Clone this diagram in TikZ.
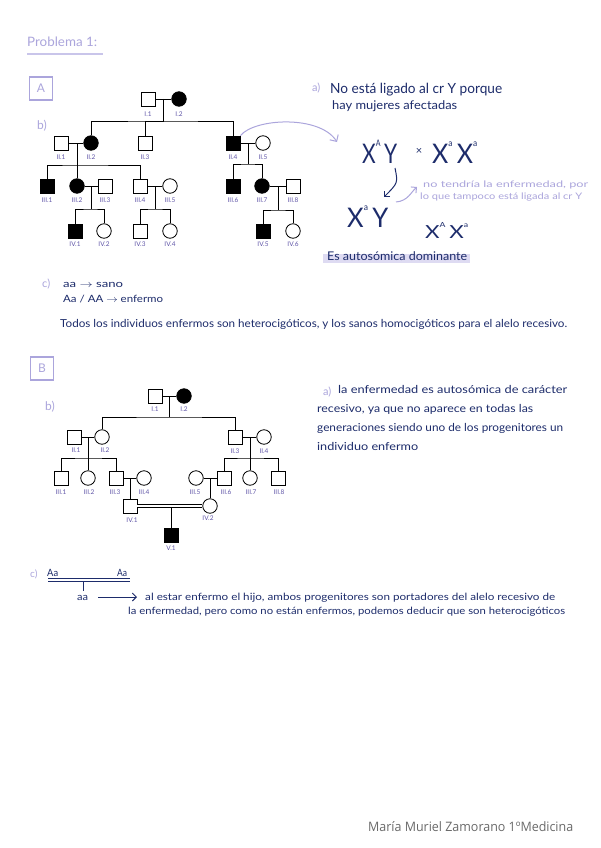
\documentclass[tikz,border=0pt]{standalone}
\usepackage{fontspec}
\usepackage{graphicx}
\setmainfont{Lato}
\newfontfamily\footfont{Open Sans}
\usetikzlibrary{arrows.meta}
\definecolor{navy}{HTML}{1D2C6B}
\definecolor{lav}{HTML}{ABA5DC}
\definecolor{lavl}{HTML}{C9C5EA}
\definecolor{lblc}{HTML}{6056A8}
\definecolor{hl}{HTML}{DEDBF2}
\definecolor{footc}{HTML}{6A6A6A}
\newcommand\fitto[2]{\resizebox{#1}{\height}{#2}}
\newcommand\fs[1]{\fontsize{#1}{#1}\selectfont}
\tikzset{
 ml/.style={draw, rectangle, minimum size=14pt, inner sep=0pt, line width=0.8pt, fill=white},
 fm/.style={draw, circle, minimum size=14.5pt, inner sep=0pt, line width=0.8pt, fill=white},
 aff/.style={fill=black},
 ln/.style={line width=0.8pt},
 lbl/.style={text=lblc, font=\fs{6.5}, inner sep=0pt},
 hw/.style={text=navy, inner sep=0pt, anchor=base west},
 lv/.style={text=lav, inner sep=0pt, anchor=base west},
 tipb/.style={-{Straight Barb[length=4pt]}},
}
\begin{document}
\begin{tikzpicture}[x=1pt,y=-1pt]
\fill[white] (0,0) rectangle (600,848);
\useasboundingbox (0,0) rectangle (600,848);

% title
\node[lv, font=\fs{13}] (title) at (27,47) {\fitto{70pt}{Problema 1:}};
\draw[lavl, line width=1.2pt] (27,54) -- (103,54);

% box A
\node[draw=lav, line width=1.3pt, minimum size=23pt, inner sep=0pt, text=lav, font=\fs{12}] (boxA) at (41,88.5) {A};
\node[lv, font=\fs{12}] (bA) at (37,130) {b)};

% ---------- Pedigree A ----------
\node[ml] (AI1) at (148,99) {};
\node[fm,aff] (AI2) at (179,99) {};
\node[ml] (AII1) at (61,143) {};
\node[fm,aff] (AII2) at (91,143) {};
\node[ml] (AII3) at (145,143) {};
\node[ml,aff] (AII4) at (233,143) {};
\node[fm] (AII5) at (263,143) {};
\node[ml,aff] (AIII1) at (47,186) {};
\node[fm,aff] (AIII2) at (77,186) {};
\node[ml] (AIII3) at (105,186) {};
\node[ml] (AIII4) at (140,186) {};
\node[fm] (AIII5) at (170,186) {};
\node[ml,aff] (AIII6) at (233,186) {};
\node[fm,aff] (AIII7) at (262,186) {};
\node[ml] (AIII8) at (293,186) {};
\node[ml,aff] (AIV1) at (75,231) {};
\node[fm] (AIV2) at (104,231) {};
\node[ml] (AIV3) at (140,231) {};
\node[fm] (AIV4) at (170,231) {};
\node[ml,aff] (AIV5) at (263,231) {};
\node[fm] (AIV6) at (293,231) {};

\coordinate (Am1) at (163.5,99); \coordinate (As1) at (163.5,121);
\coordinate (Am2) at (77,143); \coordinate (As2) at (77,165);
\coordinate (Am3) at (91,186); \coordinate (As3) at (91,209);
\coordinate (Am4) at (155,186); \coordinate (As4) at (155,209);
\coordinate (Am5) at (248,143); \coordinate (As5) at (248,164);
\coordinate (Am6) at (278,186); \coordinate (As6) at (278,210);

\draw[ln] (AI1.east) -- (AI2.west);
\draw[ln] (Am1) -- (As1);
\draw[ln] (AII2.north) |- (As1) -| (AII4.north);
\draw[ln] (AII3.north) |- (As1);
\draw[ln] (AII1.east) -- (AII2.west);
\draw[ln] (Am2) -- (AIII2.north);
\draw[ln] (AIII1.north) |- (As2) -| (AIII4.north);
\draw[ln] (AIII2.east) -- (AIII3.west);
\draw[ln] (Am3) -- (As3);
\draw[ln] (AIV1.north) |- (As3) -| (AIV2.north);
\draw[ln] (AIII4.east) -- (AIII5.west);
\draw[ln] (Am4) -- (As4);
\draw[ln] (AIV3.north) |- (As4) -| (AIV4.north);
\draw[ln] (AII4.east) -- (AII5.west);
\draw[ln] (Am5) -- (As5);
\draw[ln] (AIII6.north) |- (As5) -| (AIII7.north);
\draw[ln] (AIII7.east) -- (AIII8.west);
\draw[ln] (Am6) -- (As6);
\draw[ln] (AIV5.north) |- (As6) -| (AIV6.north);

\node[lbl] (lAI1) at (148,114) {I.1};
\node[lbl] (lAI2) at (179,114) {I.2};
\node[lbl] (lAII1) at (61,157) {II.1};
\node[lbl] (lAII2) at (91,157) {II.2};
\node[lbl] (lAII3) at (145,157) {II.3};
\node[lbl] (lAII4) at (233,157) {II.4};
\node[lbl] (lAII5) at (263,157) {II.5};
\node[lbl] (lAIII1) at (47,200) {III.1};
\node[lbl] (lAIII2) at (77,200) {III.2};
\node[lbl] (lAIII3) at (105,200) {III.3};
\node[lbl] (lAIII4) at (140,200) {III.4};
\node[lbl] (lAIII5) at (170,200) {III.5};
\node[lbl] (lAIII6) at (233,200) {III.6};
\node[lbl] (lAIII7) at (262,200) {III.7};
\node[lbl] (lAIII8) at (293,200) {III.8};
\node[lbl] (lAIV1) at (75,244) {IV.1};
\node[lbl] (lAIV2) at (104,244) {IV.2};
\node[lbl] (lAIV3) at (140,244) {IV.3};
\node[lbl] (lAIV4) at (170,244) {IV.4};
\node[lbl] (lAIV5) at (263,244) {IV.5};
\node[lbl] (lAIV6) at (293,244) {IV.6};

% arc arrow
\coordinate (arcE) at (337,142);
\draw[lav, line width=1pt, -{Straight Barb[length=5pt]}] (AII4.north east) .. controls (255,118) and (320,115) .. (arcE);

% ---------- A right side ----------
\node[lv, font=\fs{11}] (aA) at (312,92) {a)};
\node[hw, font=\fs{14}] (t1) at (330,94) {\fitto{172pt}{No está ligado al cr Y porque}};
\node[hw, font=\fs{12}] (t2) at (332,110) {\fitto{125pt}{hay mujeres afectadas}};

\node[hw, font=\fs{27}] (g1) at (362,163) {\fitto{35pt}{X\raisebox{17pt}{\fs{9}A}\,Y}};
\node[text=navy, inner sep=0pt, font=\fs{11}] (gx) at (419,151) {×};
\node[hw, font=\fs{27}] (g2) at (432,163) {\fitto{45pt}{X\raisebox{17pt}{\fs{9}a}\,X\raisebox{17pt}{\fs{9}a}}};
\node[hw, font=\fs{27}] (g3) at (347,227) {\fitto{41pt}{X\raisebox{17pt}{\fs{9}a}\,Y}};
\node[hw, font=\fs{18}] (g4) at (425,238) {\fitto{43pt}{X\raisebox{11pt}{\fs{7}A}\,X\raisebox{11pt}{\fs{7}a}}};

\coordinate (ga1) at (395,168); \coordinate (ga2) at (384,197);
\draw[navy, line width=1pt, tipb] (ga1) .. controls (398,183) .. (ga2);
\coordinate (gb1) at (396,202); \coordinate (gb2) at (417,187);
\draw[lav, line width=1pt, tipb] (gb1) .. controls (408,201) and (411,192) .. (gb2);

\node[lv, font=\fs{9}] (n1) at (423,187) {\fitto{165pt}{no tendría la enfermedad, por}};
\node[lv, font=\fs{9}] (n2) at (420,199) {\fitto{162pt}{lo que tampoco está ligada al cr Y}};

\fill[hl] (323,254) rectangle (470,263);
\node[hw, font=\fs{12}] (t3) at (327,260) {\fitto{140pt}{Es autosómica dominante}};

% ---------- c) A ----------
\node[lv, font=\fs{11}] (cA) at (42,287) {c)};
\node[hw, font=\fs{10}] (c1) at (63,287) {\fitto{60pt}{aa $\to$ sano}};
\node[hw, font=\fs{10}] (c2) at (63,302) {\fitto{100pt}{Aa / AA $\to$ enfermo}};
\node[hw, font=\fs{11}] (c3) at (60,327) {\fitto{507pt}{Todos los individuos enfermos son heterocigóticos, y los sanos homocigóticos para el alelo recesivo.}};

% ---------- box B ----------
\node[draw=lav, line width=1.3pt, minimum size=23pt, inner sep=0pt, text=lav, font=\fs{12}] (boxB) at (42,368.5) {B};
\node[lv, font=\fs{12}] (bB) at (45,410) {b)};

% ---------- Pedigree B ----------
\node[ml] (BI1) at (155,396) {};
\node[fm,aff] (BI2) at (184,396) {};
\node[ml] (BII1) at (74,437) {};
\node[fm] (BII2) at (102,437) {};
\node[ml] (BII3) at (235,437) {};
\node[fm] (BII4) at (264,437) {};
\node[ml] (BIII1) at (61,478) {};
\node[fm] (BIII2) at (88,478) {};
\node[ml] (BIII3) at (116,478) {};
\node[fm] (BIII4) at (144,478) {};
\node[fm] (BIII5) at (196,478) {};
\node[ml] (BIII6) at (224,478) {};
\node[fm] (BIII7) at (250,478) {};
\node[ml] (BIII8) at (278,478) {};
\node[ml] (BIV1) at (130,506) {};
\node[fm] (BIV2) at (210,506) {};
\node[ml,aff] (BV1) at (171,535) {};

\coordinate (Bm1) at (169.5,396); \coordinate (Bs1) at (169.5,417);
\coordinate (Bm2) at (88,437); \coordinate (Bs2) at (88,458);
\coordinate (Bm3) at (130,478);
\coordinate (Bm4) at (250,437); \coordinate (Bs4) at (250,458);
\coordinate (Bm5) at (210,478);
\coordinate (Bm6) at (171,507.6);

\draw[ln] (BI1.east) -- (BI2.west);
\draw[ln] (Bm1) -- (Bs1);
\draw[ln] (BII2.north) |- (Bs1) -| (BII3.north);
\draw[ln] (BII1.east) -- (BII2.west);
\draw[ln] (Bm2) -- (BIII2.north);
\draw[ln] (BIII1.north) |- (Bs2) -| (BIII3.north);
\draw[ln] (BIII3.east) -- (BIII4.west);
\draw[ln] (Bm3) -- (BIV1.north);
\draw[ln] (BII3.east) -- (BII4.west);
\draw[ln] (Bm4) -- (BIII7.north);
\draw[ln] (BIII6.north) |- (Bs4) -| (BIII8.north);
\draw[ln] (BIII5.east) -- (BIII6.west);
\draw[ln] (Bm5) -- (BIV2.north);
\draw[line width=0.7pt, double distance=2.4pt] (BIV1.east) -- (BIV2.west);
\draw[ln] (Bm6) -- (BV1.north);

\node[lbl] (lBI1) at (155,409) {I.1};
\node[lbl] (lBI2) at (184,409) {I.2};
\node[lbl] (lBII1) at (76,450) {II.1};
\node[lbl] (lBII2) at (105,450) {II.2};
\node[lbl] (lBII3) at (235,451) {II.3};
\node[lbl] (lBII4) at (264,451) {II.4};
\node[lbl] (lBIII1) at (61,492) {III.1};
\node[lbl] (lBIII2) at (89,492) {III.2};
\node[lbl] (lBIII3) at (115,492) {III.3};
\node[lbl] (lBIII4) at (144,492) {III.4};
\node[lbl] (lBIII5) at (195,492) {III.5};
\node[lbl] (lBIII6) at (226,492) {III.6};
\node[lbl] (lBIII7) at (251,492) {III.7};
\node[lbl] (lBIII8) at (279,492) {III.8};
\node[lbl] (lBIV1) at (132,520) {IV.1};
\node[lbl] (lBIV2) at (208,518) {IV.2};
\node[lbl] (lBV1) at (171,548) {V.1};

% ---------- B right text ----------
\node[lv, font=\fs{11}] (aB) at (323,395) {a)};
\node[hw, font=\fs{11}] (r1) at (338,393) {\fitto{229pt}{la enfermedad es autosómica de carácter}};
\node[hw, font=\fs{11}] (r2) at (317,412) {\fitto{216pt}{recesivo, ya que no aparece en todas las}};
\node[hw, font=\fs{11}] (r3) at (317,431) {\fitto{246pt}{generaciones siendo uno de los progenitores un}};
\node[hw, font=\fs{11}] (r4) at (317,450) {\fitto{101pt}{individuo enfermo}};

% ---------- c) B ----------
\node[lv, font=\fs{10}] (cB) at (30,577) {c)};
\node[hw, font=\fs{10}] (p1) at (47,576) {\fitto{11pt}{Aa}};
\node[hw, font=\fs{10}] (p2) at (117,576) {\fitto{10pt}{Aa}};
\coordinate (dl1) at (48,580); \coordinate (dl2) at (130,580);
\draw[navy, line width=0.9pt, double distance=2pt] (dl1) -- (dl2);
\coordinate (dv1) at (83,581.5); \coordinate (dv2) at (83,591);
\draw[navy, line width=1pt] (dv1) -- (dv2);
\node[hw, font=\fs{10}] (ch) at (77,600) {\fitto{11pt}{aa}};
\coordinate (ar1) at (98,597); \coordinate (ar2) at (137,597);
\draw[navy, line width=0.9pt, tipb] (ar1) -- (ar2);
\node[hw, font=\fs{10}] (q1) at (145,600) {\fitto{410pt}{al estar enfermo el hijo, ambos progenitores son portadores del alelo recesivo de}};
\node[hw, font=\fs{10}] (q2) at (128,614) {\fitto{437pt}{la enfermedad, pero como no están enfermos, podemos deducir que son heterocigóticos}};

% footer
\node[anchor=base west, inner sep=0pt, text=footc, font=\footfont\fs{13}] (foot) at (368,831) {\fitto{205pt}{María Muriel Zamorano 1ºMedicina}};
\end{tikzpicture}
\end{document}
